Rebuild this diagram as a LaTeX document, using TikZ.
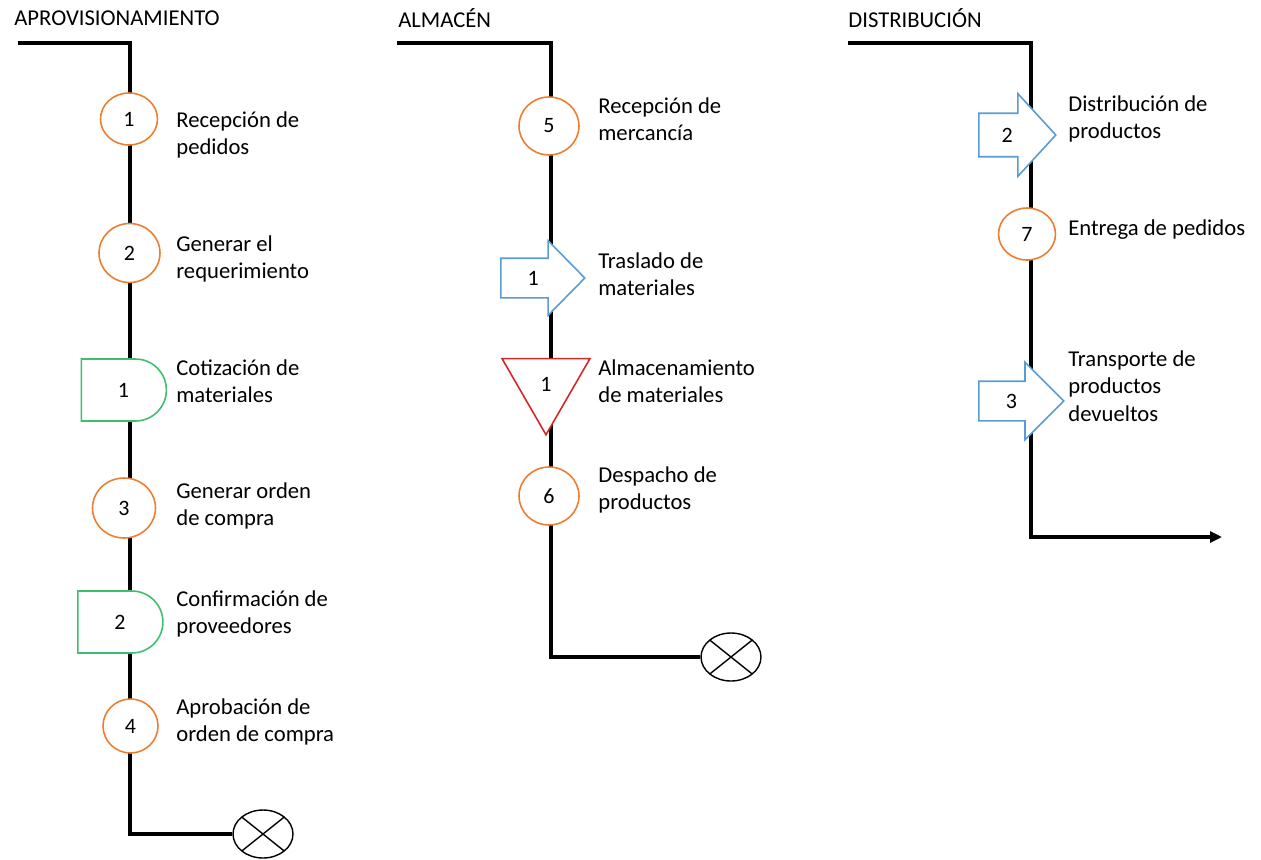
\documentclass[tikz,border=0pt]{standalone}
\usepackage{fontspec}
\setmainfont{Carlito}
\usetikzlibrary{shapes.geometric,shapes.misc,shapes.arrows,arrows.meta,backgrounds}
\definecolor{naranja}{RGB}{237,125,49}
\definecolor{verde}{RGB}{64,190,112}
\definecolor{azul}{RGB}{91,155,213}
\definecolor{rojo}{RGB}{210,40,40}

\begin{document}
\begin{tikzpicture}[x=0.02cm, y=-0.02cm]
    \tikzstyle{txt} = [align=left, inner sep=0pt, font=\fontsize{12.9}{15.6}\selectfont]
    \tikzstyle{tit} = [inner sep=0pt, anchor=west, font=\fontsize{12.9}{15}\selectfont]
    \tikzstyle{op}  = [shape=ellipse, draw=naranja, fill=white, line width=0.9pt, inner sep=0pt,
                       minimum width=1.18cm, minimum height=1.12cm, font=\fontsize{12.5}{14}\selectfont]
    \tikzstyle{dly} = [shape=rounded rectangle, rounded rectangle left arc=none, draw=verde, fill=white,
                       line width=0.9pt, inner sep=0pt, minimum width=1.7cm, minimum height=1.24cm,
                       font=\fontsize{12.5}{14}\selectfont]
    \tikzstyle{trp} = [shape=single arrow, draw=azul, fill=white, line width=0.9pt, inner sep=0pt,
                       text height=0.53cm, text depth=0.23cm, font=\fontsize{12.5}{14}\selectfont]
    \tikzstyle{alm} = [shape=regular polygon, regular polygon sides=3, shape border rotate=180,
                       draw=rojo, fill=white, line width=0.9pt, inner sep=0pt, minimum size=2.03cm,
                       font=\fontsize{12.5}{14}\selectfont]
    \tikzstyle{fin} = [shape=ellipse, draw=black, fill=white, line width=0.8pt, inner sep=0pt,
                       minimum width=1.2cm, minimum height=0.96cm,
                       path picture={\draw[line width=0.8pt] (path picture bounding box.north west) -- (path picture bounding box.south east)
                                     (path picture bounding box.south west) -- (path picture bounding box.north east);}]
    \tikzstyle{linea} = [line width=1.8pt, black]

    \useasboundingbox (0,0) rectangle (1261,859);

    % 标题
    \path   (14, 18) node [tit, name=t1] {APROVISIONAMIENTO}
            (398, 18) node [tit, name=t2] {ALMACÉN}
            (848, 18) node [tit, name=t3] {DISTRIBUCIÓN};

    % 第一列
    \path   (129, 119) node [op, name=a1, minimum width=1.14cm, minimum height=1.04cm] {1}
            (129.5, 253) node [op, name=a2, minimum width=1.22cm, minimum height=1.18cm] {2}
            (123.5, 390) node [dly, name=a3] {1}
            (124, 508) node [op, name=a4, minimum width=1.26cm, minimum height=1.2cm] {3}
            (120, 622) node [dly, name=a5] {2}
            (130.5, 726) node [op, name=a6, minimum width=1.1cm, minimum height=1.08cm] {4}
            (263, 834) node [fin, name=a7] {};
    \path   (176, 135) node [txt, anchor=west] {Recepción de\\pedidos}
            (176, 259) node [txt, anchor=west] {Generar el\\requerimiento}
            (176, 381) node [txt, anchor=west] {Cotización de\\materiales}
            (176, 506) node [txt, anchor=west] {Generar orden\\de compra}
            (176, 614) node [txt, anchor=west] {Confirmación de\\proveedores}
            (176, 722) node [txt, anchor=west] {Aprobación de\\orden de compra};

    % 第二列
    \path   (549, 126) node [op, name=b1, minimum width=1.2cm, minimum height=1.16cm] {5}
            (500, 278) node [trp, name=b2, anchor=tail, minimum height=1.68cm,
                             single arrow head extend=0.35cm, single arrow tip angle=91] {1}
            (546, 384) node [alm, name=b3] {1}
            (549, 496) node [op, name=b4, minimum width=1.2cm, minimum height=1.16cm] {6}
            (731, 657) node [fin, name=b5] {};
    \path   (598, 119) node [txt, anchor=west] {Recepción de\\mercancía}
            (598, 274) node [txt, anchor=west] {Traslado de\\materiales}
            (598, 381) node [txt, anchor=west] {Almacenamiento\\de materiales}
            (598, 490) node [txt, anchor=west] {Despacho de\\productos};

    % 第三列
    \path   (978, 135) node [trp, name=c1, anchor=tail, minimum height=1.54cm,
                             text height=0.57cm, text depth=0.27cm,
                             single arrow head extend=0.39cm, single arrow tip angle=95] {2}
            (1027, 234) node [op, name=c2, minimum width=1.14cm, minimum height=1.04cm] {7}
            (978, 401) node [trp, name=c3, anchor=tail, minimum height=1.7cm,
                             single arrow head extend=0.38cm, single arrow tip angle=90] {3};
    \path   (1068, 119) node [txt, anchor=west] {Distribución de\\productos}
            (1068, 230) node [txt, anchor=west] {Entrega de pedidos}
            (1068, 386) node [txt, anchor=west] {Transporte de\\productos\\devueltos};

    % 连线
    \coordinate (s1) at (18, 43);
    \coordinate (k1) at (130, 43);
    \coordinate (s2) at (397, 43);
    \coordinate (k2) at (551, 43);
    \coordinate (s3) at (848, 43);
    \coordinate (k3) at (1031, 43);
    \coordinate (e3) at (1222, 537);
    \begin{scope}[on background layer]
        \draw [linea] (s1) -- (k1) |- (a7);
        \draw [linea] (s2) -- (k2) |- (b5);
        \draw [linea, -{Triangle[length=0.24cm, width=0.22cm]}] (s3) -- (k3) |- (e3);
    \end{scope}
\end{tikzpicture}
\end{document}
